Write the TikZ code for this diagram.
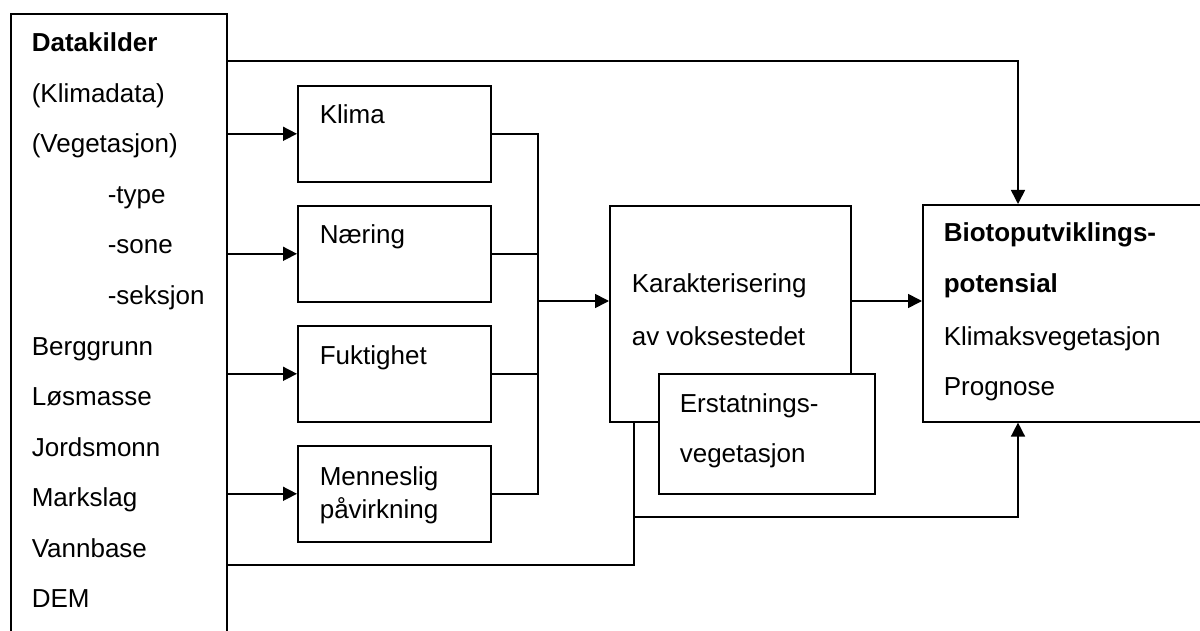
\documentclass[tikz,border=0pt]{standalone}
\usepackage{fontspec}
\setmainfont{Liberation Sans}
\usetikzlibrary{arrows.meta}

\begin{document}
\begin{tikzpicture}[x=1pt,y=-1pt,line width=1.6pt,
    boks/.style={draw=black,fill=white,inner sep=0pt,anchor=north west},
    tekst/.style={anchor=base west,inner sep=0pt,font=\fontsize{26}{30}\selectfont},
    pil/.style={-{Triangle[length=14pt,width=14pt]}}]
  \useasboundingbox (0,0) rectangle (1200,631);
  \clip (0,0) rectangle (1200,631);

  % boxes
  \node[boks,minimum width=216pt,minimum height=640pt,name=kilder] at (10,13) {};
  \node[boks,minimum width=193pt,minimum height=96pt,name=klima] at (297,85) {};
  \node[boks,minimum width=193pt,minimum height=96pt,name=naering] at (297,205) {};
  \node[boks,minimum width=193pt,minimum height=96pt,name=fukt] at (297,325) {};
  \node[boks,minimum width=193pt,minimum height=96pt,name=menneske] at (297,445) {};
  \node[boks,minimum width=241pt,minimum height=216pt,name=karakt] at (609,205) {};
  \node[boks,minimum width=216pt,minimum height=120pt,name=erstatn] at (658,373) {};
  \node[boks,minimum width=300pt,minimum height=217pt,name=bio] at (922,204) {};

  % help points
  \coordinate (topp) at (1018,61);
  \coordinate (buss) at (538,301);
  \coordinate (gren) at (634,517);
  \coordinate (hjorne) at (634,565);

  % texts, data sources
  \node[tekst,name=kA] at (31,52) {\textbf{Datakilder}};
  \node[tekst,name=kB] at (31,102.5) {(Klimadata)};
  \node[tekst,name=kC] at (31,153) {(Vegetasjon)};
  \node[tekst,name=kD] at (107,203.5) {-type};
  \node[tekst,name=kE] at (107,254) {-sone};
  \node[tekst,name=kF] at (107,304.5) {-seksjon};
  \node[tekst,name=kG] at (31,355) {Berggrunn};
  \node[tekst,name=kH] at (31,405.5) {Løsmasse};
  \node[tekst,name=kI] at (31,456) {Jordsmonn};
  \node[tekst,name=kJ] at (31,506.5) {Markslag};
  \node[tekst,name=kK] at (31,557) {Vannbase};
  \node[tekst,name=kL] at (31,607.5) {DEM};

  % texts, factors
  \node[tekst,name=klimaT] at (319,124) {Klima};
  \node[tekst,name=naeringT] at (319,244) {Næring};
  \node[tekst,name=fuktT] at (319,364) {Fuktighet};
  \node[tekst,name=mennA] at (319,485) {Menneslig};
  \node[tekst,name=mennB] at (319,518) {påvirkning};

  % texts, results
  \node[tekst,name=karA] at (631,293) {Karakterisering};
  \node[tekst,name=karB] at (631,345) {av voksestedet};
  \node[tekst,name=ersA] at (679,412) {Erstatnings-};
  \node[tekst,name=ersB] at (679,462) {vegetasjon};
  \node[tekst,name=bioA] at (943,242) {\textbf{Biotoputviklings-}};
  \node[tekst,name=bioB] at (943,293) {\textbf{potensial}};
  \node[tekst,name=bioC] at (943,345) {Klimaksvegetasjon};
  \node[tekst,name=bioD] at (943,395) {Prognose};

  % connectors
  \draw[pil] (kilder.east |- topp) -| (bio.north -| topp);
  \draw[pil] (kilder.east |- klima.west) -- (klima.west);
  \draw[pil] (kilder.east |- naering.west) -- (naering.west);
  \draw[pil] (kilder.east |- fukt.west) -- (fukt.west);
  \draw[pil] (kilder.east |- menneske.west) -- (menneske.west);
  \draw (klima.east) -| (menneske.east -| buss) -- (menneske.east);
  \draw (naering.east) -- (naering.east -| buss);
  \draw (fukt.east) -- (fukt.east -| buss);
  \draw[pil] (buss) -- (buss -| karakt.west);
  \draw[pil] (karakt.east |- buss) -- (bio.west |- buss);
  \draw (karakt.south -| hjorne) -- (hjorne) -- (kilder.east |- hjorne);
  \draw[pil] (gren) -| (bio.south -| topp);
\end{tikzpicture}
\end{document}
